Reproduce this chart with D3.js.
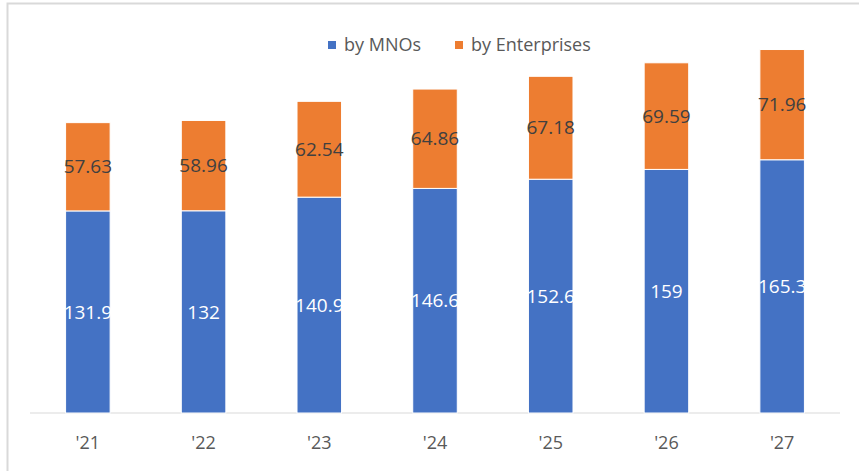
<!DOCTYPE html>
<html lang="en">
<head>
    <meta charset="UTF-8">
    <title>MNOs vs Enterprises</title>
    <script src="https://cdn.jsdelivr.net/npm/d3@7"></script>
    <style>
        body { margin: 0; background: #fff; }
        text { font-family: "Open Sans", sans-serif; }
    </style>
</head>
<body>
    <div id="chart"></div>
    <script>
        const years = ["'21", "'22", "'23", "'24", "'25", "'26", "'27"];
        const byMNOs = [131.9, 132, 140.9, 146.6, 152.6, 159, 165.3];
        const byEnterprises = [57.63, 58.96, 62.54, 64.86, 67.18, 69.59, 71.96];
        const seriesNames = ["by MNOs", "by Enterprises"];
        const colors = ["#4472C4", "#ED7D31"];

        const width = 859, height = 471;

        const svg = d3.select("#chart")
            .append("svg")
            .attr("width", width)
            .attr("height", height);

        // light frame (only left/top edges visible in the crop)
        svg.append("rect")
            .attr("x", 7.5).attr("y", 3.5)
            .attr("width", width + 20).attr("height", height + 20)
            .attr("fill", "none")
            .attr("stroke", "#d9d9d9")
            .attr("stroke-width", 2);

        const x = d3.scaleBand()
            .domain(years)
            .range([30, 840])
            .paddingInner(0.615)
            .paddingOuter(0.3075);

        const y = d3.scaleLinear()
            .domain([0, 250])
            .range([413, 30]);

        const rows = years.map((yr, i) => ({ year: yr, mno: byMNOs[i], ent: byEnterprises[i] }));
        const stacked = d3.stack().keys(["mno", "ent"])(rows);

        // baseline
        svg.append("line")
            .attr("x1", 30).attr("x2", 840)
            .attr("y1", y(0)).attr("y2", y(0))
            .attr("stroke", "#d9d9d9")
            .attr("stroke-width", 1);

        stacked.forEach((layer, k) => {
            const g = svg.append("g");
            g.selectAll("rect")
                .data(layer)
                .join("rect")
                .attr("x", d => x(d.data.year))
                .attr("width", x.bandwidth())
                .attr("y", d => y(d[1]))
                .attr("height", d => y(d[0]) - y(d[1]))
                .attr("fill", colors[k])
                .attr("stroke", "#fff")
                .attr("stroke-width", 1);

            g.selectAll("text")
                .data(layer)
                .join("text")
                .attr("x", d => x(d.data.year) + x.bandwidth() / 2)
                .attr("y", d => (y(d[0]) + y(d[1])) / 2)
                .attr("dy", "0.35em")
                .attr("text-anchor", "middle")
                .style("font-size", "19px")
                .style("fill", k === 0 ? "#fff" : "#404040")
                .text(d => d.data[layer.key]);
        });

        // x axis labels
        svg.append("g")
            .selectAll("text")
            .data(years)
            .join("text")
            .attr("x", d => x(d) + x.bandwidth() / 2)
            .attr("y", 443)
            .attr("dy", "0.35em")
            .attr("text-anchor", "middle")
            .style("font-size", "18px")
            .style("fill", "#595959")
            .text(d => d);

        // legend
        const legendX = [328, 455];
        seriesNames.forEach((name, i) => {
            svg.append("rect")
                .attr("x", legendX[i]).attr("y", 41)
                .attr("width", 8).attr("height", 8)
                .attr("fill", colors[i]);
            svg.append("text")
                .attr("x", legendX[i] + 16).attr("y", 45)
                .attr("dy", "0.35em")
                .style("font-size", "18px")
                .style("fill", "#595959")
                .text(name);
        });
    </script>
</body>
</html>
